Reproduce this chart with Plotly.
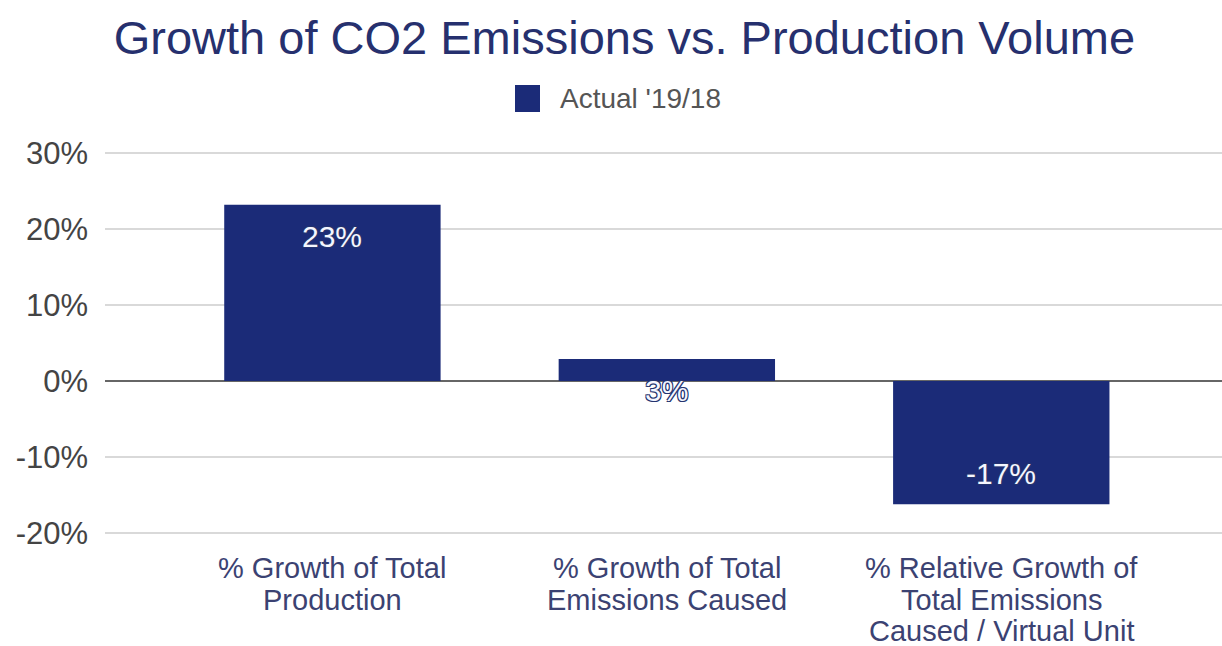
import plotly.graph_objects as go

categories = [
    "% Growth of Total<br>Production",
    "% Growth of Total<br>Emissions Caused",
    "% Relative Growth of<br>Total Emissions<br>Caused / Virtual Unit",
]
values = [23.2, 2.9, -16.2]
labels = ["23%", "3%", "-17%"]
series_name = "Actual '19/18"
tick_vals = [-20, -10, 0, 10, 20, 30]
tick_text = ["-20%", "-10%", "0%", "10%", "20%", "30%"]

NAVY = "#1b2b78"
FONT = "Liberation Sans, Arial, sans-serif"
W, H = 1222, 646
L, R, T, B = 105, 0, 151, 111
PH = H - T - B
PW = W - L - R

fig = go.Figure()
fig.add_trace(go.Bar(
    x=categories,
    y=values,
    name=series_name,
    width=0.647,
    marker=dict(color=NAVY, line=dict(width=0)),
    showlegend=False,
))

# data labels, placed just inside the bar end
for cat, val, lab in zip(categories, values, labels):
    fig.add_annotation(
        x=cat, y=val, xref="x", yref="y",
        text=lab, showarrow=False,
        yanchor="middle",
        yshift=-32 if val >= 0 else 31,
        font=dict(family=FONT, size=30, color="#f4f6ff",
                  shadow="-1px -1px 0 #24336e, 1px -1px 0 #24336e, -1px 1px 0 #24336e, 1px 1px 0 #24336e"),
    )

# category labels, one annotation per line for tighter line spacing
for cat in categories:
    for i, line in enumerate(cat.split("<br>")):
        fig.add_annotation(
            x=cat, xref="x", y=0, yref="paper",
            text=line, showarrow=False, borderpad=0,
            yanchor="middle", yshift=-33 - 31.5 * i,
            font=dict(family=FONT, size=29, color="#3b4272"),
        )

# legend drawn as a swatch + label
fig.add_shape(type="rect", xref="paper", yref="paper",
              x0=(515 - L) / PW, x1=(540 - L) / PW,
              y0=1 + (T - 112) / PH, y1=1 + (T - 85) / PH,
              fillcolor=NAVY, line=dict(width=0))
fig.add_annotation(xref="paper", yref="paper",
                   x=(558 - L) / PW, y=1 + (T - 99) / PH,
                   xanchor="left", yanchor="middle", showarrow=False,
                   text=series_name,
                   font=dict(family=FONT, size=28, color="#555555"))

fig.update_layout(
    width=W, height=H,
    margin=dict(l=L, r=R, t=T, b=B),
    paper_bgcolor="white", plot_bgcolor="white",
    title=dict(text="Growth of CO2 Emissions vs. Production Volume",
               x=0.511, xref="container", xanchor="center",
               y=1 - 38 / H, yref="container", yanchor="middle",
               font=dict(family=FONT, size=47, color="#26306e")),
    font=dict(family=FONT),
    xaxis=dict(range=[-0.68, 2.66], showgrid=False, showline=False,
               ticks="", showticklabels=False, automargin=False),
    yaxis=dict(range=[-20.26, 30.26], tickvals=tick_vals, ticktext=tick_text,
               showgrid=True, gridcolor="#d9d9d9", gridwidth=1.5,
               zeroline=True, zerolinecolor="#666666", zerolinewidth=2,
               showline=False, ticks="", ticklabelstandoff=16, automargin=False,
               tickfont=dict(family=FONT, size=31, color="#444444")),
)

fig.write_html("out.html", config={"displayModeBar": False},
               post_script="document.body.style.margin='0';")
